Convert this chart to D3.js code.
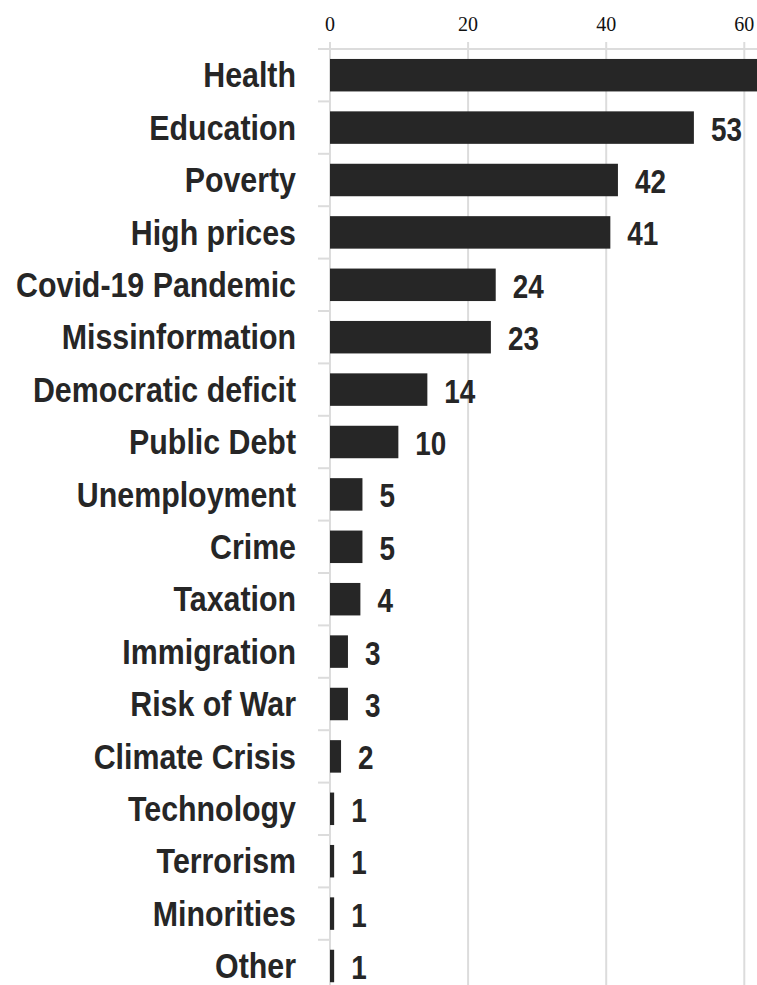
<!DOCTYPE html>
<html>
<head>
<meta charset="utf-8">
<script src="https://cdn.jsdelivr.net/npm/d3@7"></script>
<style>
  html, body { margin: 0; padding: 0; background: #fff; overflow: hidden; }
  svg { display: block; }
</style>
</head>
<body>
<svg id="chart" width="757" height="985"></svg>
<script>
const categories = ["Health", "Education", "Poverty", "High prices", "Covid-19 Pandemic",
  "Missinformation", "Democratic deficit", "Public Debt", "Unemployment", "Crime",
  "Taxation", "Immigration", "Risk of War", "Climate Crisis", "Technology",
  "Terrorism", "Minorities", "Other"];
const values = [66, 52.7, 41.7, 40.6, 24.0, 23.3, 14.1, 9.9, 4.7, 4.7, 4.4, 2.6, 2.6, 1.6, 0.6, 0.6, 0.6, 0.6];
const valueLabels = ["66", "53", "42", "41", "24", "23", "14", "10", "5", "5", "4", "3", "3", "2", "1", "1", "1", "1"];
const xTicks = [0, 20, 40, 60];

(function () {
const svg = d3.select("#chart");
const x0 = 330, pxPerUnit = 6.905;
const x = d3.scaleLinear().domain([0, 62]).range([x0, x0 + 62 * pxPerUnit]);
const plotTop = 49, step = 52.4;
const plotBottom = plotTop + categories.length * step;
const y = d3.scaleBand().domain(categories)
  .range([plotTop, plotBottom])
  .paddingInner(0.38).paddingOuter(0.19);

const grid = "#dcdcdc";
const ink = "#262626";
const labelFont = "'Liberation Sans', Arial, sans-serif";

// vertical gridlines
svg.append("g").selectAll("line").data(xTicks).join("line")
  .attr("x1", d => x(d)).attr("x2", d => x(d))
  .attr("y1", 42).attr("y2", plotBottom)
  .attr("stroke", grid).attr("stroke-width", 2);

// top axis line
svg.append("line").attr("x1", 318).attr("x2", 757)
  .attr("y1", plotTop).attr("y2", plotTop).attr("stroke", grid).attr("stroke-width", 2);

// left ticks at band boundaries
svg.append("g").selectAll("line").data(d3.range(1, categories.length + 1)).join("line")
  .attr("x1", 318).attr("x2", x0)
  .attr("y1", d => plotTop + d * step).attr("y2", d => plotTop + d * step)
  .attr("stroke", grid).attr("stroke-width", 2);

// top tick labels
svg.append("g").selectAll("text").data(xTicks).join("text")
  .attr("x", d => x(d)).attr("y", 31)
  .attr("text-anchor", "middle")
  .attr("font-family", "'Liberation Serif', 'DejaVu Serif', serif")
  .attr("font-size", 20).attr("fill", "#111")
  .text(d => d);

// bars
svg.append("g").selectAll("rect").data(categories).join("rect")
  .attr("x", x(0)).attr("y", d => y(d))
  .attr("width", (d, i) => x(values[i]) - x(0))
  .attr("height", y.bandwidth())
  .attr("fill", ink);

// category labels (condensed bold)
svg.append("g").selectAll("text").data(categories).join("text")
  .attr("transform", d => `translate(296,${y(d) + y.bandwidth() / 2}) scale(0.867,1)`)
  .attr("dy", "0.35em").attr("text-anchor", "end")
  .attr("font-family", labelFont).attr("font-weight", "bold")
  .attr("font-size", 35).attr("fill", ink)
  .text(d => d);

// value labels
svg.append("g").selectAll("text").data(categories).join("text")
  .attr("transform", (d, i) => `translate(${x(values[i]) + 17},${y(d) + y.bandwidth() / 2}) scale(0.82,1)`)
  .attr("dy", "0.38em").attr("text-anchor", "start")
  .attr("font-family", labelFont).attr("font-weight", "bold")
  .attr("font-size", 34).attr("fill", ink)
  .text((d, i) => valueLabels[i]);
})();
</script>
</body>
</html>
